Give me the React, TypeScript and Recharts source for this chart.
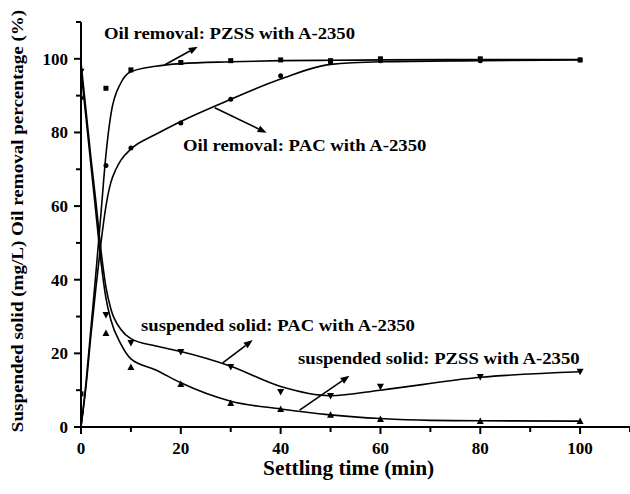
import React from "react";
import {
  ComposedChart,
  Line,
  Scatter,
  XAxis,
  YAxis,
  ReferenceLine,
} from "recharts";

// fitted curves
const pzssOilCurveX = [0, 1, 2, 3, 4, 5, 6, 8, 10, 15, 20, 30, 40, 50, 60, 80, 100];
const pzssOilCurveY = [0, 12, 27, 42, 58, 74, 85, 93.5, 96.5, 98, 98.7, 99.2, 99.5, 99.6, 99.7, 99.8, 99.8];
const pacOilCurveX = [0, 1, 2, 3, 4, 5, 6, 7, 8, 10, 15, 20, 30, 40, 50, 60, 80, 100];
const pacOilCurveY = [0, 11, 25, 38, 50, 60, 66.5, 70, 72.5, 75.5, 79.5, 83, 89, 94.5, 98.5, 99.2, 99.5, 99.7];
const pacSsCurveX = [0, 1, 2, 3, 4, 5, 6, 8, 10, 15, 20, 30, 40, 50, 60, 80, 100];
const pacSsCurveY = [99, 86, 73, 61, 48, 38, 32, 26.5, 24, 22, 20.5, 16.5, 11, 8.5, 10, 13.5, 15];
const pzssSsCurveX = [0, 1, 2, 3, 4, 5, 6, 8, 10, 15, 20, 30, 40, 50, 60, 70, 80, 100];
const pzssSsCurveY = [97, 84, 71, 58, 45, 35, 29, 22.5, 18.5, 15.5, 12, 7, 4.9, 3.3, 2.3, 1.8, 1.7, 1.6];

// measured points
const timeX = [0, 5, 10, 20, 30, 40, 50, 60, 80, 100];
const pzssOil = [9, 92, 97, 99, 99.5, 99.7, 99.5, 100, 100, 99.7];
const pacOil = [4, 71, 75.8, 82.6, 89, 95.4, 99, 99.5, 99.5, 99.7];
const pacSs = [96.5, 30.4, 22.8, 20.4, 16.3, 9.5, 8.4, 10.9, 13.6, 15];
const pzssSs = [89.7, 25.5, 16.3, 11.7, 6.5, 4.9, 3.3, 2.2, 1.6, 1.6];

const axisTicks = [0, 10, 20, 30, 40, 50, 60, 70, 80, 90, 100, 110];

// annotation arrows in data units: [x1, y1, x2 (head), y2 (head)]
const arrows: [number, number, number, number][] = [
  [16.8, 98.4, 23.4, 103.3],
  [26.8, 86.7, 37.2, 79.9],
  [28.4, 17.4, 34.4, 23.6],
  [43.8, 4.6, 53.8, 13.9],
];

const zip = (xs: number[], ys: number[]) => xs.map((x, i) => ({ x, y: ys[i] }));

const FONT = "'Liberation Serif', 'Times New Roman', serif";

function XTick(props: any) {
  const { x, y, payload } = props;
  const major = payload.value % 20 === 0 && payload.value <= 100;
  return (
    <g>
      <line x1={x} x2={x} y1={y} y2={y + (major ? 7 : 5)} stroke="#000" strokeWidth={2} />
      {major && (
        <text x={x} y={y + 27} textAnchor="middle" fontFamily={FONT} fontWeight="bold" fontSize={17} fill="#000">
          {payload.value}
        </text>
      )}
    </g>
  );
}

function YTick(props: any) {
  const { x, y, payload } = props;
  const major = payload.value % 20 === 0 && payload.value <= 100;
  return (
    <g>
      <line x1={x} x2={x - (major ? 7 : 5)} y1={y} y2={y} stroke="#000" strokeWidth={2} />
      {major && (
        <text x={x - 13} y={y + 6} textAnchor="end" fontFamily={FONT} fontWeight="bold" fontSize={17} fill="#000">
          {payload.value}
        </text>
      )}
    </g>
  );
}

function Square(props: any) {
  const { cx, cy } = props;
  return <rect x={cx - 2.5} y={cy - 2.5} width={5} height={5} fill="#000" />;
}
function Dot(props: any) {
  const { cx, cy } = props;
  return <circle cx={cx} cy={cy} r={2.5} fill="#000" />;
}
function TriDown(props: any) {
  const { cx, cy } = props;
  return <polygon points={`${cx - 3.5},${cy - 3} ${cx + 3.5},${cy - 3} ${cx},${cy + 3.5}`} fill="#000" />;
}
function TriUp(props: any) {
  const { cx, cy } = props;
  return <polygon points={`${cx - 3.5},${cy + 3} ${cx + 3.5},${cy + 3} ${cx},${cy - 3.5}`} fill="#000" />;
}

function Arrow(props: any) {
  const { x1, y1, x2, y2 } = props;
  if ([x1, y1, x2, y2].some((v) => v == null || isNaN(v))) return null;
  const a = Math.atan2(y2 - y1, x2 - x1);
  const L = 9;
  const W = 3.5;
  const bx = x2 - L * Math.cos(a);
  const by = y2 - L * Math.sin(a);
  const px = -Math.sin(a) * W;
  const py = Math.cos(a) * W;
  return (
    <g>
      <line x1={x1} y1={y1} x2={bx} y2={by} stroke="#000" strokeWidth={1.6} />
      <polygon points={`${x2},${y2} ${bx + px},${by + py} ${bx - px},${by - py}`} fill="#000" />
    </g>
  );
}

const labelStyle: React.CSSProperties = {
  position: "absolute",
  fontFamily: FONT,
  fontWeight: "bold",
  fontSize: 17,
  color: "#000",
  whiteSpace: "nowrap",
  lineHeight: 1,
  transform: "scaleX(1.1)",
  transformOrigin: "0 0",
};

export default function App() {
  return (
    <div style={{ position: "absolute", left: 0, top: 0, width: 630, height: 494, background: "#fff" }}>
      <ComposedChart width={630} height={494} margin={{ top: 22, right: 0, bottom: 0, left: 0 }}>
        <XAxis
          dataKey="x"
          type="number"
          domain={[0, 110]}
          ticks={axisTicks}
          interval={0}
          allowDataOverflow
          tickSize={0}
          tickMargin={0}
          tick={<XTick />}
          height={67}
          axisLine={{ stroke: "#000", strokeWidth: 2 }}
        />
        <YAxis
          type="number"
          domain={[0, 110]}
          ticks={axisTicks}
          interval={0}
          allowDataOverflow
          tickSize={0}
          tickMargin={0}
          tick={<YTick />}
          width={81}
          axisLine={{ stroke: "#000", strokeWidth: 2 }}
        />
        <Line data={zip(pzssOilCurveX, pzssOilCurveY)} dataKey="y" type="monotone" stroke="#000" strokeWidth={1.6} dot={false} isAnimationActive={false} />
        <Line data={zip(pacOilCurveX, pacOilCurveY)} dataKey="y" type="monotone" stroke="#000" strokeWidth={1.6} dot={false} isAnimationActive={false} />
        <Line data={zip(pacSsCurveX, pacSsCurveY)} dataKey="y" type="monotone" stroke="#000" strokeWidth={1.6} dot={false} isAnimationActive={false} />
        <Line data={zip(pzssSsCurveX, pzssSsCurveY)} dataKey="y" type="monotone" stroke="#000" strokeWidth={1.6} dot={false} isAnimationActive={false} />
        <Scatter data={zip(timeX, pzssOil)} dataKey="y" shape={<Square />} isAnimationActive={false} />
        <Scatter data={zip(timeX, pacOil)} dataKey="y" shape={<Dot />} isAnimationActive={false} />
        <Scatter data={zip(timeX, pacSs)} dataKey="y" shape={<TriDown />} isAnimationActive={false} />
        <Scatter data={zip(timeX, pzssSs)} dataKey="y" shape={<TriUp />} isAnimationActive={false} />
        {arrows.map((a, i) => (
          <ReferenceLine
            key={i}
            segment={[
              { x: a[0], y: a[1] },
              { x: a[2], y: a[3] },
            ]}
            shape={<Arrow />}
            ifOverflow="visible"
          />
        ))}
      </ComposedChart>

      <div style={{ ...labelStyle, left: 104, top: 25 }}>Oil removal: PZSS with A-2350</div>
      <div style={{ ...labelStyle, left: 183, top: 137 }}>Oil removal: PAC with A-2350</div>
      <div style={{ ...labelStyle, left: 141, top: 317 }}>suspended solid: PAC with A-2350</div>
      <div style={{ ...labelStyle, left: 298, top: 350 }}>suspended solid: PZSS with A-2350</div>

      <div style={{ ...labelStyle, fontSize: 20, left: 263, top: 458, transform: "scaleX(1.07)" }}>
        Settling time (min)
      </div>
      <div
        style={{
          ...labelStyle,
          left: 17,
          top: 221,
          transformOrigin: "50% 50%",
          transform: "translate(-50%, -50%) rotate(-90deg) scaleX(1.12)",
        }}
      >
        Suspended solid (mg/L) Oil removal percentage (%)
      </div>
    </div>
  );
}
